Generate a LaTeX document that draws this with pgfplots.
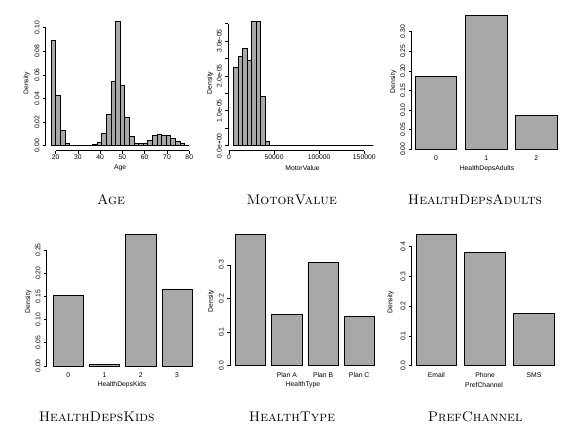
\documentclass[border=0pt]{standalone}
\usepackage{fontspec}
\setsansfont{Liberation Sans}
\usepackage{pgfplots}
\pgfplotsset{compat=1.18}
\definecolor{barfill}{RGB}{168,168,168}
\newcommand{\tf}{\sffamily\fontsize{6.8}{7}\selectfont}
\newcommand{\ttl}{\fontsize{14}{16}\selectfont}
\pgfplotsset{
  rbase/.style={
    scale only axis, anchor=south west, clip=false,
    axis x line*=bottom, axis y line*=left,
    axis line style={draw=none},
    tick align=outside, major tick length=3pt,
    tick style={black, line width=0.7pt},
    enlargelimits=false,
    ticklabel style={font=\tf, inner sep=0pt},
    yticklabel style={rotate=90, anchor=south},
    xticklabel style={anchor=north},
    yticklabel shift=3pt,
    xticklabel shift=1pt,
    scaled ticks=false,
  },
  rbar/.style={rbase, major x tick style={draw=none}, xticklabel shift=2pt},
  hbars/.style={fill=barfill, draw=black, line width=0.8pt},
}
\begin{document}
\begin{tikzpicture}[x=1pt,y=1pt]
\useasboundingbox (0,0) rectangle (578,432);
% ---------------- Age
\begin{axis}[rbase, at={(45.7pt,281.34pt)}, width=149.1pt, height=133.86pt,
  xmin=15.52, xmax=82.48, ymin=-0.0042, ymax=0.1092,
  xtick={20,30,40,50,60,70,80}, xticklabels={20,30,40,50,60,70,80},
  ytick={0,0.02,0.04,0.06,0.08,0.10}, yticklabels={0.00,0.02,0.04,0.06,0.08,0.10}]
\addplot[ybar interval, hbars] coordinates {
(18.0000,0.0895) (20.0667,0.0427) (22.1333,0.0127) (24.2000,0.0022)
(26.2667,0) (28.3333,0) (30.4000,0) (32.4667,0) (34.5333,0)
(36.6000,0.0012) (38.6667,0.0028) (40.7333,0.0105) (42.8000,0.0263)
(44.8667,0.0545) (46.9333,0.1050) (49.0000,0.0514) (51.0667,0.0240)
(53.1333,0.0077) (55.2000,0.0020) (57.2667,0.0020) (59.3333,0.0020)
(61.4000,0.0048) (63.4667,0.0087) (65.5333,0.0096) (67.6000,0.0089)
(69.6667,0.0088) (71.7333,0.0063) (73.8000,0.0034) (75.8667,0.0023)
(77.9333,0) (80.0000,0)};
\draw[line width=0.7pt] (axis cs:15.52,0) -- (axis cs:15.52,0.10);
\draw[line width=0.7pt] (axis cs:20,-0.0042) -- (axis cs:80,-0.0042);
\end{axis}
% ---------------- MotorValue
\begin{axis}[rbase, at={(227.9pt,281.34pt)}, width=151.0pt, height=133.86pt,
  xmin=-1200, xmax=166200, ymin=-1.42e-6, ymax=3.692e-5,
  xtick={0,50000,100000,150000}, xticklabels={0,50000,100000,150000},
  ytick={0,0.5e-5,1e-5,1.5e-5,2e-5,2.5e-5,3e-5,3.5e-5},
  yticklabels={0.0e+00,,1.0e-05,,2.0e-05,,3.0e-05,}]
\addplot[ybar interval, hbars] coordinates {
(5000,2.24e-5) (10000,2.55e-5) (15000,2.79e-5) (20000,2.43e-5)
(25000,3.55e-5) (30000,3.55e-5) (35000,1.42e-5) (40000,0.13e-5)
(45000,0) (50000,0) (55000,0) (60000,0) (65000,0) (70000,0) (75000,0)
(80000,0) (85000,0) (90000,0) (95000,0) (100000,0) (105000,0) (110000,0)
(115000,0) (120000,0) (125000,0) (130000,0) (135000,0) (140000,0)
(145000,0) (150000,0) (155000,0) (160000,0)};
\draw[line width=0.7pt] (axis cs:-1200,0) -- (axis cs:-1200,3.5e-5);
\draw[line width=0.7pt] (axis cs:0,-1.42e-6) -- (axis cs:150000,-1.42e-6);
\end{axis}
% ---------------- HealthDepsAdults
\begin{axis}[rbar, at={(411.5pt,281.34pt)}, width=151.5pt, height=142.48pt,
  xmin=0.116, xmax=3.736, ymin=-0.00347, ymax=0.36,
  xtick={0.7,1.9,3.1}, xticklabels={0,1,2},
  ytick={0,0.05,0.10,0.15,0.20,0.25,0.30},
  yticklabels={0.00,0.05,0.10,0.15,0.20,0.25,0.30}]
\addplot[ybar, bar width=1, bar shift=0pt, hbars] coordinates {(0.7,0.185) (1.9,0.3426) (3.1,0.0875)};
\draw[line width=0.7pt] (axis cs:0.116,0) -- (axis cs:0.116,0.30);
\end{axis}
% ---------------- HealthDepsKids
\begin{axis}[rbar, at={(46.7pt,64.6pt)}, width=151.1pt, height=140.6pt,
  xmin=-0.018, xmax=4.984, ymin=-0.003, ymax=0.30,
  xtick={0.7,1.9,3.1,4.3}, xticklabels={0,1,2,3},
  ytick={0,0.05,0.10,0.15,0.20,0.25},
  yticklabels={0.00,0.05,0.10,0.15,0.20,0.25}]
\addplot[ybar, bar width=1, bar shift=0pt, hbars] coordinates {(0.7,0.1515) (1.9,0.003) (3.1,0.284) (4.3,0.166)};
\draw[line width=0.7pt] (axis cs:-0.018,0) -- (axis cs:-0.018,0.25);
\end{axis}
% ---------------- HealthType
\begin{axis}[rbar, at={(230pt,64.9pt)}, width=149.8pt, height=142.5pt,
  xmin=0.011, xmax=4.984, ymin=-0.0042, ymax=0.42,
  xtick={0.7,1.9,3.1,4.3}, xticklabels={,Plan A,Plan B,Plan C},
  ytick={0,0.1,0.2,0.3}, yticklabels={0.0,0.1,0.2,0.3}]
\addplot[ybar, bar width=1, bar shift=0pt, hbars] coordinates {(0.7,0.392) (1.9,0.153) (3.1,0.3065) (4.3,0.147)};
\draw[line width=0.7pt] (axis cs:0.011,0) -- (axis cs:0.011,0.3);
\end{axis}
% ---------------- PrefChannel
\begin{axis}[rbar, at={(411.7pt,64.9pt)}, width=148.2pt, height=138.2pt,
  xmin=0.094, xmax=3.736, ymin=-0.0047, ymax=0.46,
  xtick={0.7,1.9,3.1}, xticklabels={Email,Phone,SMS},
  ytick={0,0.1,0.2,0.3,0.4}, yticklabels={0.0,0.1,0.2,0.3,0.4}]
\addplot[ybar, bar width=1, bar shift=0pt, hbars] coordinates {(0.7,0.443) (1.9,0.380) (3.1,0.177)};
\draw[line width=0.7pt] (axis cs:0.094,0) -- (axis cs:0.094,0.4);
\end{axis}
% ---------------- axis labels
\node[rotate=90, font=\tf] at (26.7,348.7) {Density};
\node[rotate=90, font=\tf] at (210,349) {Density};
\node[rotate=90, font=\tf] at (393.3,350.3) {Density};
\node[rotate=90, font=\tf] at (28.3,130.3) {Density};
\node[rotate=90, font=\tf] at (211,131) {Density};
\node[rotate=90, font=\tf] at (390.7,129.7) {Density};
\node[font=\tf] at (120.2,263.7) {Age};
\node[font=\tf] at (302.5,264.3) {MotorValue};
\node[font=\tf] at (487,263.7) {HealthDepsAdults};
\node[font=\tf] at (122,47) {HealthDepsKids};
\node[font=\tf] at (303,47) {HealthType};
\node[font=\tf] at (484,47) {PrefChannel};
% ---------------- titles
\node[anchor=base, font=\ttl] at (111,228) {\textsc{Age}};
\node[anchor=base, font=\ttl] at (291.7,228) {\textsc{MotorValue}};
\node[anchor=base, font=\ttl] at (475,228) {\textsc{HealthDepsAdults}};
\node[anchor=base, font=\ttl] at (96.7,10.5) {\textsc{HealthDepsKids}};
\node[anchor=base, font=\ttl] at (292,10.5) {\textsc{HealthType}};
\node[anchor=base, font=\ttl] at (475,10.5) {\textsc{PrefChannel}};
\end{tikzpicture}
\end{document}
